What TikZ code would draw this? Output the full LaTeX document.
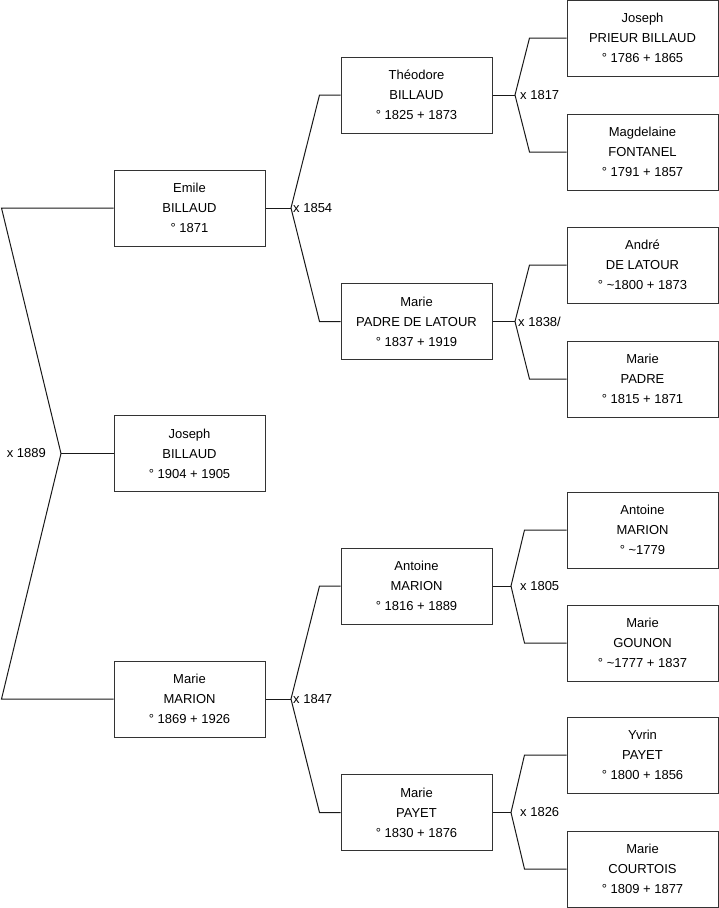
\documentclass[tikz,border=0pt]{standalone}
\usepackage{fontspec}
\setmainfont{Liberation Sans}
\usetikzlibrary{positioning,calc}

\begin{document}
\begin{tikzpicture}[x=1pt,y=-1pt,
  person/.style={draw=black!80,line width=1pt,minimum width=151pt,minimum height=76pt,
    inner sep=0pt,align=center,font=\fontsize{13}{20}\selectfont},
  link/.style={draw=black!90,line width=1pt},
  wed/.style={font=\fontsize{13}{15}\selectfont,inner sep=0pt}]
\useasboundingbox (0,0) rectangle (719,908);
% child and parents
\node[person] (emile) at (189.5,208) {Emile\\BILLAUD\\° 1871};
\node[person] (josephB) at (189.5,453.5) {Joseph\\BILLAUD\\° 1904 + 1905};
\node[person] (marieM) at (189.5,699) {Marie\\MARION\\° 1869 + 1926};
% grandparents
\node[person] (theodore) at (416.5,95) {Théodore\\BILLAUD\\° 1825 + 1873};
\node[person] (marieP) at (416.5,321.5) {Marie\\PADRE DE LATOUR\\° 1837 + 1919};
\node[person] (antoineM) at (416.5,586) {Antoine\\MARION\\° 1816 + 1889};
\node[person] (marieY) at (416.5,812.5) {Marie\\PAYET\\° 1830 + 1876};
% great-grandparents
\foreach \n/\y/\a/\b/\c in {josephPB/38/Joseph/PRIEUR BILLAUD/° 1786 + 1865,
    magdelaine/152/Magdelaine/FONTANEL/° 1791 + 1857,
    andre/265/André/DE LATOUR/° \textasciitilde1800 + 1873,
    marieD/379/Marie/PADRE/° 1815 + 1871,
    antoineMM/530/Antoine/MARION/° \textasciitilde1779,
    marieG/643/Marie/GOUNON/° \textasciitilde1777 + 1837,
    yvrin/755/Yvrin/PAYET/° 1800 + 1856,
    marieC/869/Marie/COURTOIS/° 1809 + 1877}
  \node[person] (\n) at (642.5,\y) {\a\\\b\\\c};

% marriage forks
\coordinate (u1889) at (61,453.5);
\draw[link] (emile.west) -- ++(-112,0) -- (u1889) -- ([xshift=-112pt]marieM.west) -- (marieM.west);
\draw[link] (josephB.west) -- (u1889);
\node[wed,anchor=east] (m1889) at (46,453.5) {x 1889};

\coordinate (u1854) at (291,208);
\draw[link] (theodore.west) -- ++(-21,0) -- (u1854) -- ([xshift=-21pt]marieP.west) -- (marieP.west);
\draw[link] (emile.east) -- (u1854);
\node[wed,anchor=west] (m1854) at (293,208) {x 1854};

\coordinate (u1847) at (291,699);
\draw[link] (antoineM.west) -- ++(-21,0) -- (u1847) -- ([xshift=-21pt]marieY.west) -- (marieY.west);
\draw[link] (marieM.east) -- (u1847);
\node[wed,anchor=west] (m1847) at (293,699) {x 1847};

\coordinate (u1817) at (515,95);
\draw[link] (josephPB.west) -- ++(-37,0) -- (u1817) -- ([xshift=-37pt]magdelaine.west) -- (magdelaine.west);
\draw[link] (theodore.east) -- (u1817);
\node[wed,anchor=west] (m1817) at (520,95) {x 1817};

\coordinate (u1838) at (515,321.5);
\draw[link] (andre.west) -- ++(-37,0) -- (u1838) -- ([xshift=-37pt]marieD.west) -- (marieD.west);
\draw[link] (marieP.east) -- (u1838);
\node[wed,anchor=west] (m1838) at (518,321.5) {x 1838/};

\coordinate (u1805) at (511,586);
\draw[link] (antoineMM.west) -- ++(-42,0) -- (u1805) -- ([xshift=-42pt]marieG.west) -- (marieG.west);
\draw[link] (antoineM.east) -- (u1805);
\node[wed,anchor=west] (m1805) at (520,586) {x 1805};

\coordinate (u1826) at (511,812.5);
\draw[link] (yvrin.west) -- ++(-42,0) -- (u1826) -- ([xshift=-42pt]marieC.west) -- (marieC.west);
\draw[link] (marieY.east) -- (u1826);
\node[wed,anchor=west] (m1826) at (520,812.5) {x 1826};
\end{tikzpicture}
\end{document}
